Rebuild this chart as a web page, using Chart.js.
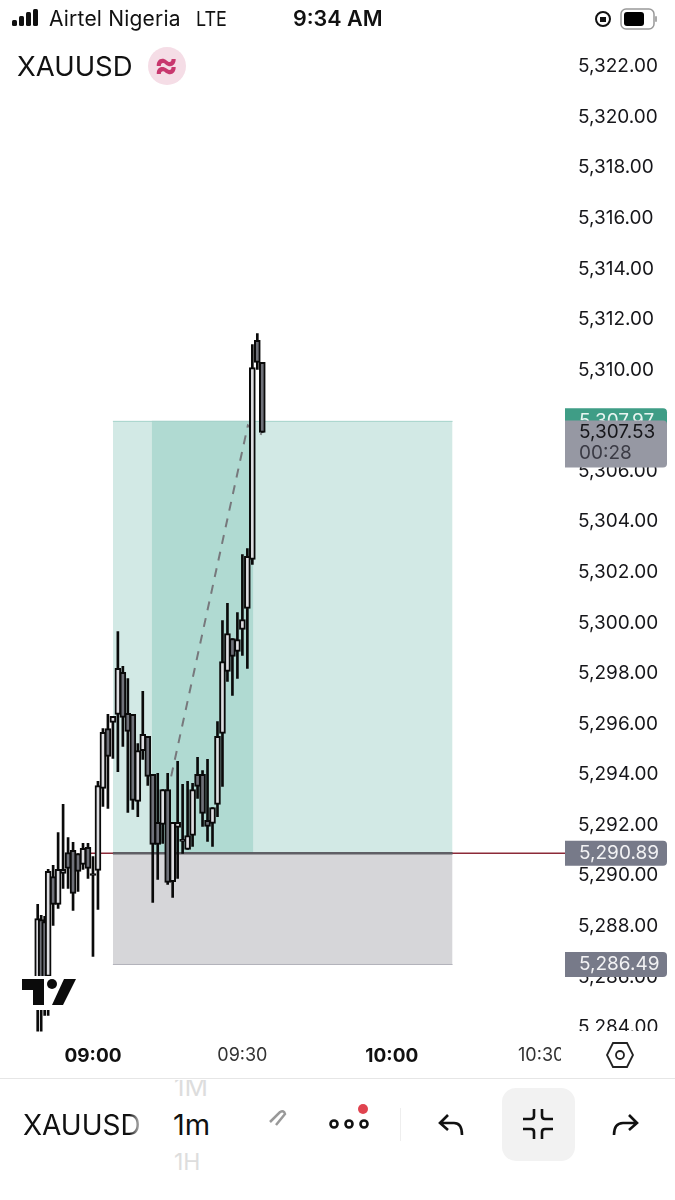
<!DOCTYPE html>
<html>
<head>
<meta charset="utf-8">
<script src="https://cdn.jsdelivr.net/npm/chart.js@4"></script>
<style>
  html, body { margin: 0; padding: 0; background: #fff; }
  #page { position: relative; width: 675px; height: 1200px; overflow: hidden; font-family: Inter, "Noto Sans", sans-serif; color: #111; }
  #chart { position: absolute; left: 0; top: 0; }
  .t { position: absolute; white-space: nowrap; line-height: 1; }
  svg { position: absolute; overflow: visible; }
</style>
</head>
<body>
<div id="page">
  <canvas id="chart" width="675" height="1078"></canvas>

  <!-- status bar -->
  <svg style="left:0;top:0" width="60" height="36">
    <rect x="12" y="20" width="5" height="6" rx="1.5" fill="#111"/>
    <rect x="19" y="16" width="5" height="10" rx="1.5" fill="#111"/>
    <rect x="26" y="12" width="5" height="14" rx="1.5" fill="#111"/>
    <rect x="33" y="9" width="5" height="17" rx="1.5" fill="#111"/>
  </svg>
  <div class="t" style="left:49px;top:8px;font-size:21px;letter-spacing:.2px">Airtel Nigeria</div>
  <div class="t" style="left:196px;top:9px;font-size:20px;transform:scaleX(.9);transform-origin:left">LTE</div>
  <div class="t" style="left:293px;top:8px;font-size:21.5px;font-weight:600">9:34 AM</div>
  <svg style="left:595px;top:6px" width="70" height="26">
    <circle cx="8" cy="13" r="7" fill="none" stroke="#111" stroke-width="2"/>
    <rect x="5" y="11" width="6" height="5" fill="#111"/>
    <rect x="26" y="3" width="33" height="20" rx="5" fill="none" stroke="#999" stroke-width="1.5"/>
    <rect x="29" y="6" width="20" height="14" rx="3" fill="#000"/>
    <rect x="60" y="10" width="2" height="6" rx="1" fill="#aaa"/>
  </svg>

  <!-- symbol header -->
  <div class="t" style="left:17px;top:53px;font-size:27.5px">XAUUSD</div>
  <svg style="left:148px;top:47px" width="38" height="38"><circle cx="19" cy="19" r="19" fill="#f5dde6"/></svg>
  <div class="t" style="left:154px;top:46px;font-size:36px;font-weight:700;color:#c8386e">≈</div>

  <!-- TradingView mark, sits on its own white patch over the candles -->
  <div style="position:absolute;left:18px;top:976px;width:62px;height:34px;background:#fff"></div>
  <svg style="left:0;top:0" width="100" height="1010">
    <path d="M22 979H44V1005H33V990H22Z" fill="#0b0b0b"/>
    <circle cx="52" cy="984" r="5" fill="#0b0b0b"/>
    <path d="M64 979H76L63 1005H52Z" fill="#0b0b0b"/>
  </svg>

  <!-- masks off what runs under the axis corner, like the app does -->
  <div style="position:absolute;left:561px;top:1031px;width:114px;height:46px;background:#fff"></div>
  <svg style="left:606px;top:1041px" width="28" height="28">
    <path d="M7 2H21L27 14L21 26H7L1 14Z" fill="none" stroke="#222" stroke-width="1.8"/>
    <circle cx="14" cy="14" r="4" fill="none" stroke="#222" stroke-width="1.8"/>
  </svg>

  <!-- bottom toolbar -->
  <div style="position:absolute;left:0;top:1078px;width:675px;height:1px;background:#e6e6e6"></div>
  <div class="t" style="left:174px;top:1080px;height:18px;overflow:hidden;font-size:26px;color:#ddd"><div style="margin-top:-6px">1M</div></div>
  <div class="t" style="left:23px;top:1111px;width:121px;overflow:hidden;font-size:28px;-webkit-mask-image:linear-gradient(90deg,#000 88%,transparent)">XAUUSD</div>
  <div class="t" style="left:173px;top:1110px;font-size:29px">1m</div>
  <div class="t" style="left:174px;top:1151px;font-size:23px;color:#ddd">1H</div>
  <svg style="left:262px;top:1108px" width="30" height="26">
    <path d="M8 14L18 4Q22 2 23 6L14 17" fill="none" stroke="#999" stroke-width="2.5"/>
  </svg>
  <svg style="left:325px;top:1100px" width="50" height="36">
    <circle cx="9" cy="24" r="3.5" fill="none" stroke="#111" stroke-width="2.6"/>
    <circle cx="24" cy="24" r="3.5" fill="none" stroke="#111" stroke-width="2.6"/>
    <circle cx="39" cy="24" r="3.5" fill="none" stroke="#111" stroke-width="2.6"/>
    <circle cx="38" cy="9" r="5" fill="#e0434f"/>
  </svg>
  <div style="position:absolute;left:400px;top:1108px;width:1px;height:33px;background:#eee"></div>
  <svg style="left:438px;top:1113px" width="28" height="26">
    <path d="M10 2L2 10L10 17M2 10H16Q24 10 24 22" fill="none" stroke="#111" stroke-width="2.6"/>
  </svg>
  <div style="position:absolute;left:502px;top:1088px;width:73px;height:73px;border-radius:14px;background:#f2f2f2"></div>
  <svg style="left:522px;top:1108px" width="32" height="32">
    <path d="M12 1V8Q12 11 9 11H1M20 1V8Q20 11 23 11H31M12 31V24Q12 21 9 21H1M20 31V24Q20 21 23 21H31" fill="none" stroke="#111" stroke-width="2.6"/>
  </svg>
  <svg style="left:611px;top:1113px" width="28" height="26">
    <path d="M18 2L26 10L18 17M26 10H12Q3 10 3 22" fill="none" stroke="#111" stroke-width="2.6"/>
  </svg>
</div>

<script>
// minutes after 09:00 (the first few candles are packed tighter in the picture)
const minutes = [-11.1,-10.4,-9.7,-9,-8,-7,-6,-5,-4,-3,-2,-1,0,1,2,3,4,5,6,7,8,9,10,11,12,13,14,15,16,17,18,19,20,21,22,23,24,25,26,27,28,29,30,31,32,33,34];
const opens = [5285.62,5288.27,5288.19,5286.02,5289.97,5288.87,5290.09,5290.92,5291.00,5290.88,5290.45,5291.12,5290.09,5290.21,5293.45,5295.82,5296.06,5296.38,5298.04,5296.42,5296.38,5292.94,5294.95,5295.51,5294.01,5292.11,5292.03,5293.41,5289.77,5291.91,5291.44,5291.04,5291.59,5294.01,5294.01,5292.19,5292.07,5292.82,5295.63,5298.08,5299.38,5298.87,5299.74,5300.57,5302.51,5311.17,5310.30];
const highs = [5288.87,5288.43,5288.39,5290.25,5290.41,5291.71,5292.82,5291.51,5291.32,5290.88,5291.28,5291.28,5290.76,5293.73,5295.82,5296.38,5296.30,5299.66,5298.28,5297.80,5296.38,5295.23,5297.29,5295.51,5294.01,5294.05,5293.41,5294.05,5292.11,5294.52,5293.61,5293.73,5293.65,5294.68,5294.16,5294.60,5292.70,5296.10,5300.09,5300.77,5299.38,5300.41,5302.70,5302.94,5311.01,5311.44,5310.30];
const lows = [5283.70,5283.70,5284.48,5284.48,5288.04,5288.71,5289.50,5289.50,5288.63,5289.38,5290.25,5289.89,5286.81,5288.67,5292.74,5292.66,5294.64,5294.12,5295.11,5292.50,5292.62,5292.34,5294.60,5293.57,5288.94,5289.85,5291.28,5289.66,5289.14,5289.89,5290.88,5291.04,5291.16,5293.06,5291.95,5291.36,5291.16,5292.34,5293.53,5297.68,5297.13,5297.80,5298.71,5298.20,5302.31,5310.02,5307.53];
const closes = [5288.31,5285.62,5285.62,5290.17,5288.87,5290.25,5290.25,5290.29,5289.30,5290.17,5291.08,5290.29,5290.01,5293.57,5295.67,5294.72,5296.30,5298.20,5296.26,5295.71,5292.98,5294.95,5295.59,5293.93,5291.24,5291.24,5293.41,5289.74,5292.11,5292.11,5291.36,5291.59,5293.41,5293.53,5292.46,5291.95,5292.70,5295.51,5298.47,5299.58,5298.67,5299.34,5300.13,5302.63,5310.10,5310.30,5307.53];

// position tool
const positionStart = 4, positionEnd = 72.2;
const rangeStart = 11.8, rangeEnd = 32.2;
const targetPrice = 5307.97, entryPrice = 5290.89, stopPrice = 5286.49;
const pathMinutes = [15.7, 31.1, 33.9];
const pathPrices = [5293.93, 5307.81, 5307.45];

const lastPrice = 5307.53, countdown = '00:28';
const timeLabels = { 0: '09:00', 30: '09:30', 60: '10:00', 90: '10:30' };

const fmt = v => v.toLocaleString('en-US', { minimumFractionDigits: 2, maximumFractionDigits: 2 });
const labelFont = '19px Inter, "Noto Sans", sans-serif';
const isHourTick = ctx => ctx.tick && ctx.tick.value % 60 === 0;

const zone = (x0, x1, top, bottom, fillColor, lineColor, order) => ({
    type: 'line',
    data: [{ x: x0, y: top }, { x: x1, y: top }],
    borderColor: lineColor,
    borderWidth: 1,
    backgroundColor: fillColor,
    fill: { value: bottom },
    pointRadius: 0,
    order: order
});

// price tags sit over the axis labels
const tagsPlugin = {
    id: 'tags',
    afterDraw(chart) {
        const ctx = chart.ctx;
        const y = chart.scales.y;
        const tag = (top, height, color) => {
            ctx.fillStyle = color;
            ctx.beginPath();
            ctx.roundRect(565, top, 102, height, [0, 4, 4, 0]);
            ctx.fill();
        };
        ctx.save();
        ctx.font = labelFont;
        ctx.textAlign = 'left';
        ctx.textBaseline = 'middle';

        const targetY = y.getPixelForValue(targetPrice);
        tag(targetY - 13, 26, '#3f9d86');
        ctx.fillStyle = '#e8f5f1';
        ctx.fillText(fmt(targetPrice), 579, targetY);

        const lastY = y.getPixelForValue(lastPrice);
        tag(lastY - 12, 47, '#9698a3');
        ctx.fillStyle = '#16161a';
        ctx.fillText(fmt(lastPrice), 579, lastY);
        ctx.fillStyle = '#3b3b45';
        ctx.fillText(countdown, 579, lastY + 21);

        [entryPrice, stopPrice].forEach(p => {
            const py = y.getPixelForValue(p);
            tag(py - 12.5, 25, '#777a89');
            ctx.fillStyle = '#f2f2f4';
            ctx.fillText(fmt(p), 579, py);
        });
        ctx.restore();
    }
};

new Chart(document.getElementById('chart'), {
    type: 'bar',
    data: {
        datasets: [
            zone(positionStart, positionEnd, targetPrice, entryPrice, '#d2e9e5', '#a5d3ca', 10),
            zone(positionStart, positionEnd, stopPrice, entryPrice, '#d6d6d9', '#b4b4bc', 10),
            zone(rangeStart, rangeEnd, targetPrice, entryPrice, '#b0dad2', '#a5d3ca', 9),
            {
                type: 'line',
                data: [{ x: -1, y: entryPrice }, { x: 95, y: entryPrice }],
                borderColor: '#8c2a38',
                borderWidth: 1.5,
                pointRadius: 0,
                order: 8
            },
            {
                type: 'line',
                data: [{ x: positionStart, y: entryPrice }, { x: positionEnd, y: entryPrice }],
                borderColor: '#5f5f65',
                borderWidth: 2.5,
                pointRadius: 0,
                order: 7
            },
            {
                type: 'line',
                data: pathMinutes.map((m, i) => ({ x: m, y: pathPrices[i] })),
                borderColor: '#77787c',
                borderWidth: 2,
                borderDash: [9, 8],
                pointRadius: 0,
                order: 6
            },
            {
                label: 'wicks',
                data: minutes.map((m, i) => ({ x: m, y: [lows[i], highs[i]] })),
                backgroundColor: '#0a0a0a',
                barThickness: 2,
                grouped: false,
                order: 2
            },
            {
                label: 'bodies',
                data: minutes.map((m, i) => ({ x: m, y: [opens[i], closes[i]] })),
                backgroundColor: minutes.map((m, i) => closes[i] >= opens[i] ? '#dedee2' : '#6f7179'),
                borderColor: '#0a0a0a',
                borderWidth: 2,
                borderSkipped: false,
                barThickness: 6,
                grouped: false,
                order: 1
            }
        ]
    },
    options: {
        responsive: false,
        animation: false,
        layout: { padding: { top: 37.5, left: 0, right: 0, bottom: 0 } },
        plugins: { legend: { display: false }, tooltip: { enabled: false } },
        scales: {
            x: {
                type: 'linear',
                offset: false,
                min: -18.67,
                max: 94.78,
                grid: { display: false },
                border: { display: false },
                afterFit: scale => { scale.height = 46.5; },
                ticks: {
                    stepSize: 30,
                    includeBounds: false,
                    autoSkip: false,
                    maxRotation: 0,
                    padding: 5.5,
                    color: ctx => isHourTick(ctx) ? '#111' : '#333',
                    font: ctx => ({
                        family: 'Inter, "Noto Sans", sans-serif',
                        size: isHourTick(ctx) ? 19 : 18,
                        weight: isHourTick(ctx) ? '700' : '400'
                    }),
                    callback: v => timeLabels[v] || ''
                }
            },
            y: {
                position: 'right',
                min: 5283.84,
                max: 5323.15,
                grid: { display: false },
                border: { display: false },
                afterFit: scale => { scale.width = 110; },
                ticks: {
                    stepSize: 2,
                    includeBounds: false,
                    padding: 5,
                    color: '#16161a',
                    font: { family: 'Inter, "Noto Sans", sans-serif', size: 19 },
                    callback: v => fmt(v)
                }
            }
        }
    },
    plugins: [tagsPlugin]
});
</script>
</body>
</html>
